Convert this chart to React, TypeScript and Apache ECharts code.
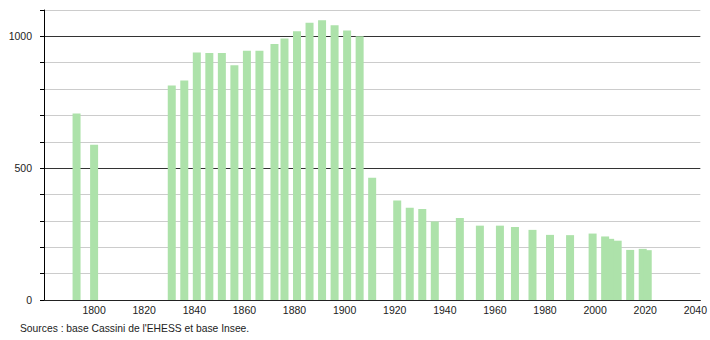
import React, { useEffect, useRef } from "react";
import * as echarts from "echarts";

const years = [1793, 1800, 1831, 1836, 1841, 1846, 1851, 1856, 1861, 1866, 1872, 1876, 1881, 1886, 1891, 1896, 1901, 1906, 1911, 1921, 1926, 1931, 1936, 1946, 1954, 1962, 1968, 1975, 1982, 1990, 1999, 2004, 2006, 2009, 2014, 2019, 2021];
const population = [707, 589, 814, 833, 939, 937, 937, 890, 945, 945, 971, 992, 1019, 1052, 1061, 1042, 1022, 1000, 464, 377, 350, 345, 298, 311, 282, 282, 277, 266, 247, 246, 252, 241, 232, 225, 190, 194, 189];
const yLabels = [0, 500, 1000];
const sourceText = "Sources : base Cassini de l'EHESS et base Insee.";

export default function App() {
  const ref = useRef<HTMLDivElement>(null);
  useEffect(() => {
    if (!ref.current) return;
    document.body.style.margin = "0";
    const chart = echarts.init(ref.current, undefined, { renderer: "svg" });
    const font = "'Liberation Sans', Arial, sans-serif";
    chart.setOption({
      animation: false,
      grid: { left: 44, right: 9, top: 10, bottom: 40 },
      xAxis: {
        type: "value",
        min: 1780,
        max: 2042,
        interval: 20,
        axisLine: { show: true, lineStyle: { color: "#222", width: 1 } },
        axisTick: { show: false },
        splitLine: { show: false },
        axisLabel: {
          margin: 4,
          fontSize: 10.5,
          fontFamily: font,
          color: "#222",
          formatter: (v: number) => (v % 20 === 0 && v > 1780 ? String(v) : ""),
        },
      },
      yAxis: {
        type: "value",
        min: 0,
        max: 1100,
        interval: 100,
        axisLine: { show: true, lineStyle: { color: "#000", width: 1 } },
        axisTick: { show: true, length: 4, lineStyle: { color: "#000" } },
        splitLine: {
          show: true,
          lineStyle: { color: ["#333", "#ccc", "#ccc", "#ccc", "#ccc"], width: 1 },
        },
        axisLabel: {
          margin: 12,
          fontSize: 10.5,
          fontFamily: font,
          color: "#222",
          formatter: (v: number) => (yLabels.includes(v) ? String(v) : ""),
        },
      },
      series: [
        {
          type: "bar",
          barWidth: 8,
          itemStyle: { color: "#ade2aa" },
          data: years.map((y, i) => [y, population[i]]),
        },
      ],
      graphic: [
        {
          type: "text",
          left: 20,
          top: 323,
          style: { text: sourceText, fontSize: 10.3, fontFamily: font, fill: "#222" },
        },
      ],
    });
    return () => chart.dispose();
  }, []);
  return <div ref={ref} style={{ width: 710, height: 340 }} />;
}
